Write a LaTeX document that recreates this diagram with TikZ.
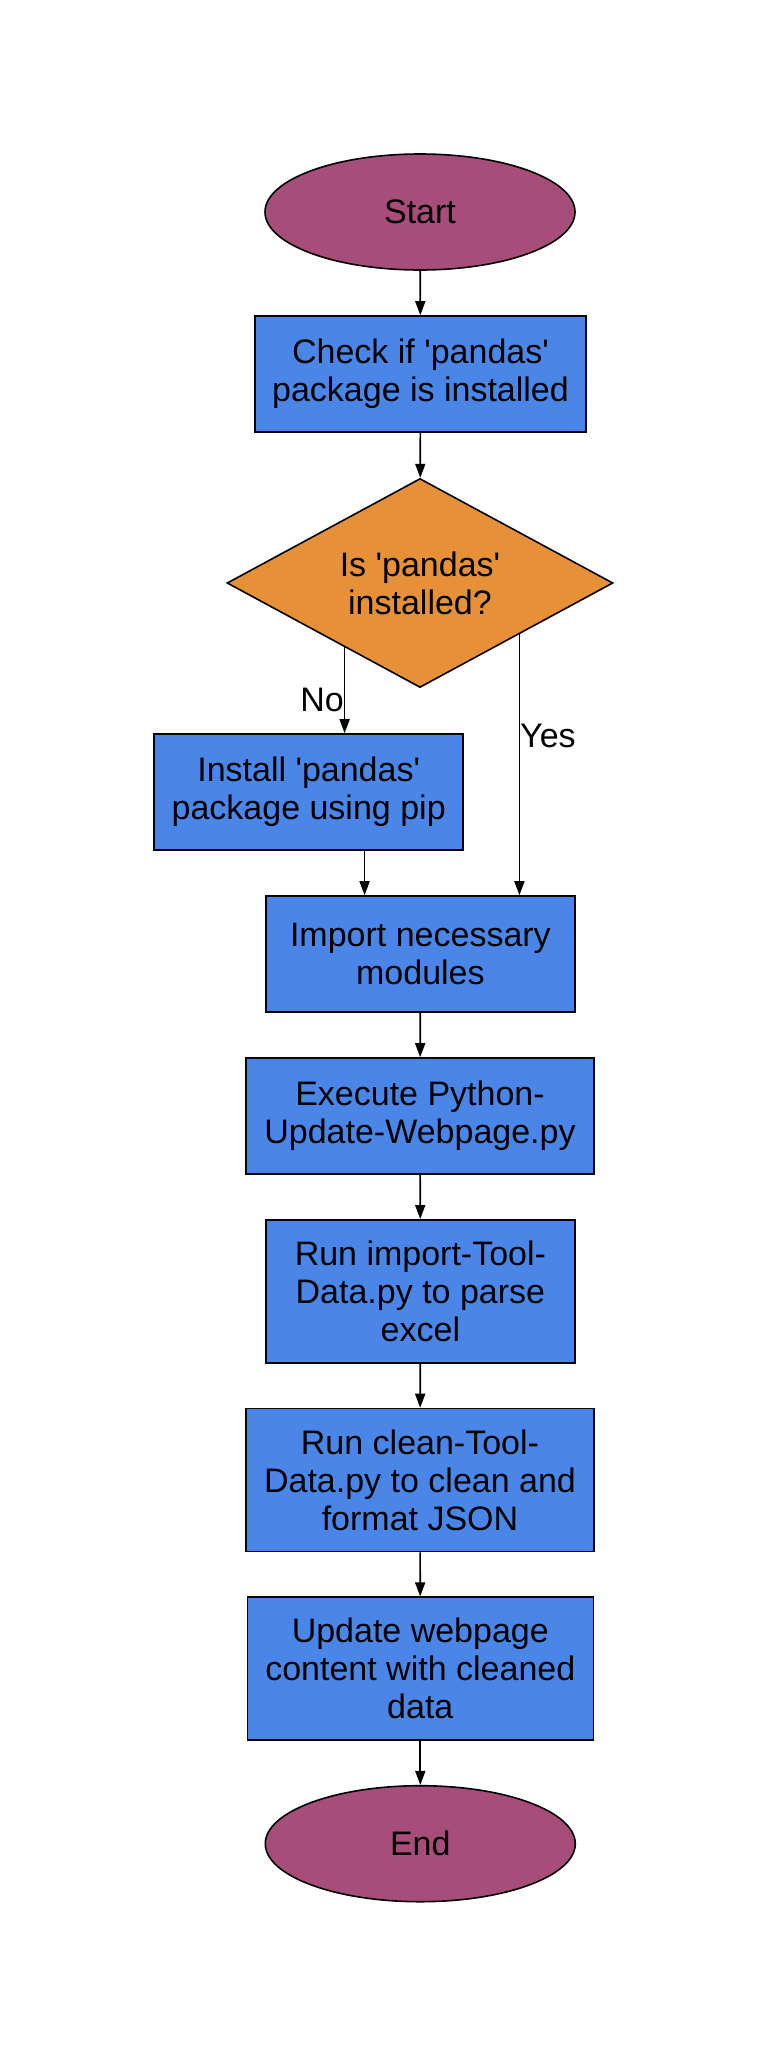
\documentclass[tikz,border=0pt]{standalone}
\usepackage{fontspec}
\setmainfont{Liberation Sans}[Ligatures=TeXOff]
\usetikzlibrary{shapes.geometric,arrows.meta,calc}
\definecolor{termc}{HTML}{A64D79}
\definecolor{procc}{HTML}{4A86E8}
\definecolor{decc}{HTML}{E69138}
\tikzset{
  base/.style={draw=black, line width=1.6pt, inner sep=0pt, align=center,
    font=\fontsize{34}{38}\selectfont, text=black},
  term/.style={base, ellipse, fill=termc, minimum width=310pt, minimum height=116pt},
  proc/.style={base, rectangle, fill=procc},
  dec/.style={base, diamond, fill=decc, aspect=1.85, minimum width=386pt, minimum height=209pt},
  arr/.style={draw=black, line width=1.7pt, -{Triangle[length=14pt,width=10pt]}},
  lbl/.style={inner sep=0pt, font=\fontsize{34}{38}\selectfont}
}
\begin{document}
\begin{tikzpicture}[x=1pt,y=-1pt]
\useasboundingbox (0,0) rectangle (768,2056);
\node[term] (start) at (420,212) {Start};
\node[proc, minimum width=331pt, minimum height=116pt] (check) at (420.5,374) {Check if 'pandas'\\package is installed};
\node[dec] (q) at (420,583) {Is 'pandas'\\installed?};
\node[proc, minimum width=309pt, minimum height=116pt] (install) at (308.7,792) {Install 'pandas'\\package using pip};
\node[proc, minimum width=309pt, minimum height=116pt] (import) at (420.4,954) {Import necessary\\modules};
\node[proc, minimum width=348pt, minimum height=116pt] (exec) at (420,1116) {Execute Python-\\Update-Webpage.py};
\node[proc, minimum width=309pt, minimum height=143pt] (runimp) at (420.4,1291.3) {Run import-Tool-\\Data.py to parse\\excel};
\node[proc, minimum width=348pt, minimum height=143pt] (clean) at (420,1480) {Run clean-Tool-\\Data.py to clean and\\format JSON};
\node[proc, minimum width=346pt, minimum height=143pt] (update) at (420.3,1668.7) {Update webpage\\content with cleaned\\data};
\node[term] (end) at (420.3,1843.7) {End};

\coordinate (noS) at ($(q.west)!0.611!(q.south)$);
\coordinate (yesS) at ($(q.east)!0.487!(q.south)$);
\coordinate (instS) at ($(install.south west)!0.68!(install.south east)$);

\draw[arr] (start) -- (check);
\draw[arr] (check) -- (q);
\draw[arr] (noS) -- (noS |- install.north);
\draw[arr] (yesS) -- (yesS |- import.north);
\draw[arr] (instS) -- (instS |- import.north);
\draw[arr] (import) -- (exec);
\draw[arr] (exec) -- (runimp);
\draw[arr] (runimp) -- (clean);
\draw[arr] (clean) -- (update);
\draw[arr] (update) -- (end);

\node[lbl, anchor=base east] (nolbl) at (344,711) {No};
\node[lbl, anchor=base west] (yeslbl) at (520,747) {Yes};
\end{tikzpicture}
\end{document}
